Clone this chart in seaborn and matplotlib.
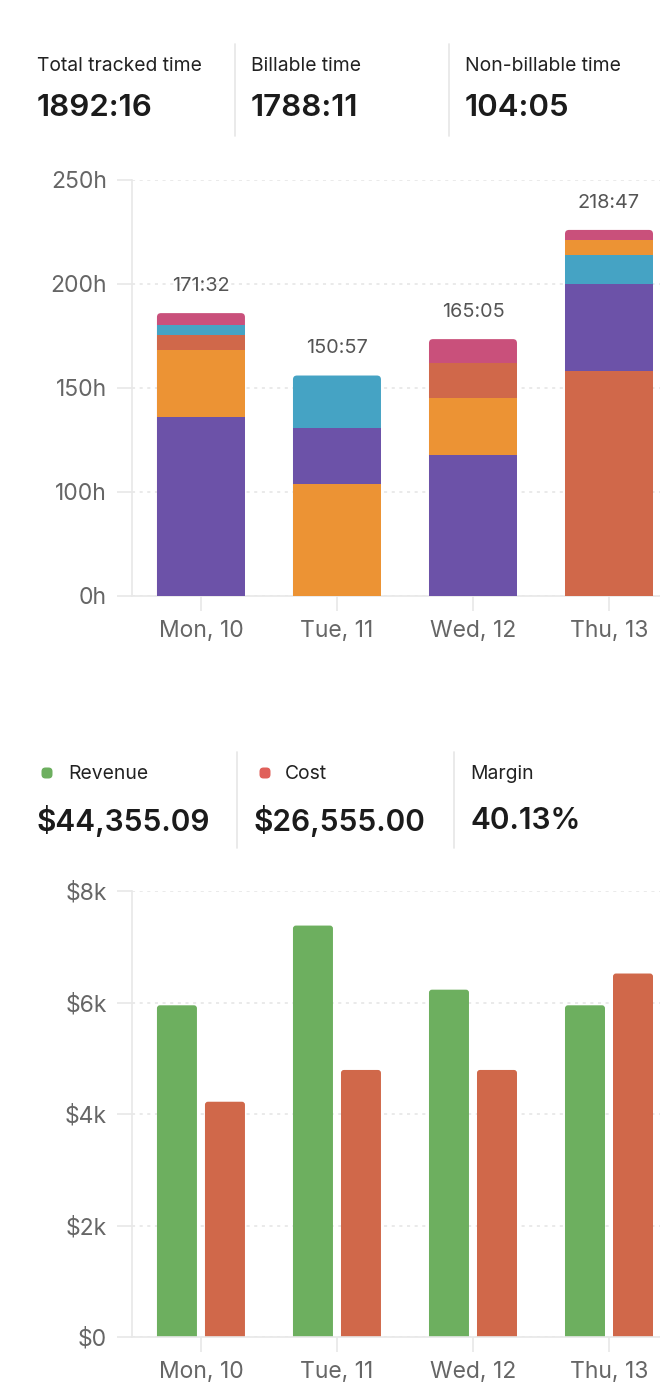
import numpy as np
import pandas as pd
import matplotlib
matplotlib.use("Agg")
import matplotlib.pyplot as plt
from matplotlib.patches import FancyBboxPatch
from matplotlib.lines import Line2D
from matplotlib.transforms import IdentityTransform
import seaborn as sns

# ---- data ----
days = ['Mon, 10', 'Tue, 11', 'Wed, 12', 'Thu, 13']
projects = ['Project A', 'Project B', 'Project C', 'Project D', 'Project E']

# stacked segments per day, bottom -> top (hours)
mon_stack = [('Project A', 136), ('Project B', 32.5), ('Project C', 7), ('Project D', 5), ('Project E', 5.5)]
tue_stack = [('Project B', 104), ('Project A', 27), ('Project D', 25)]
wed_stack = [('Project A', 118), ('Project B', 27), ('Project C', 17), ('Project E', 11.5)]
thu_stack = [('Project C', 158), ('Project A', 42), ('Project D', 14), ('Project B', 7), ('Project E', 5)]
stacks = [mon_stack, tue_stack, wed_stack, thu_stack]
total_labels = ['171:32', '150:57', '165:05', '218:47']

hour_ticks = [50, 100, 150, 200, 250]
hour_tick_labels = ['0h', '100h', '150h', '200h', '250h']

revenue = [5950, 7380, 6230, 5950]
cost = [4220, 4790, 4790, 6520]
money_ticks = [0, 2000, 4000, 6000, 8000]
money_tick_labels = ['$0', '$2k', '$4k', '$6k', '$8k']

time_stats = [('Total tracked time', '1892:16'), ('Billable time', '1788:11'), ('Non-billable time', '104:05')]
money_stats = [('Revenue', '$44,355.09'), ('Cost', '$26,555.00'), ('Margin', '40.13%')]

project_colors = {'Project A': '#6c52a8', 'Project B': '#ec9334', 'Project C': '#d0684a',
                  'Project D': '#45a3c4', 'Project E': '#c9507b'}
metric_colors = {'Revenue': '#6daf5f', 'Cost': '#d0684a'}

# ---- figure ----
sns.set_theme(style='white')
plt.rcParams['font.family'] = ['Inter', 'DejaVu Sans']
W, H = 660, 1400
fig = plt.figure(figsize=(W / 100, H / 100), dpi=100)


def fx(px):
    return px / W


def fy(py):
    return 1 - py / H


def sep(x, y0, y1):
    fig.add_artist(Line2D([fx(x), fx(x)], [fy(y0), fy(y1)], transform=fig.transFigure,
                          color='#e6e6e6', lw=1.2))


def dot(x, y, color):
    # rounded square legend marker, in pixel coordinates
    s = 11
    fig.add_artist(FancyBboxPatch((x - s / 2, H - y - s / 2), s, s,
                                  boxstyle='round,pad=0,rounding_size=4',
                                  transform=IdentityTransform(), facecolor=color,
                                  edgecolor='none'))


# stats row 1
for (lab, val), x in zip(time_stats, [37, 251, 465]):
    fig.text(fx(x), fy(66), lab, fontsize=13.9, color='#222222', va='center', ha='left')
    fig.text(fx(x), fy(108), val, fontsize=22.5, color='#1b1b1b', va='center', ha='left',
             fontweight='semibold')
sep(235, 44, 136)
sep(449, 44, 136)

# stats row 2
lab_x = [68, 285, 470]
dot_x = [47, 265, None]
for (lab, val), x, dx, vx in zip(money_stats, lab_x, dot_x, [37, 253, 470]):
    fig.text(fx(x), fy(774), lab, fontsize=13.9, color='#222222', va='center', ha='left')
    fig.text(fx(vx), fy(821), val, fontsize=21.5, color='#1b1b1b', va='center', ha='left',
             fontweight='semibold')
    if dx is not None:
        dot(dx, 773, '#6daf5f' if lab == 'Revenue' else '#e0605a')
sep(237, 752, 848)
sep(454, 752, 848)


def style_axis(ax, ticks, labels):
    ax.set_yticks(ticks)
    ax.set_yticklabels(labels)
    ax.set_xlabel('')
    ax.set_ylabel('')
    for s in ['top', 'right']:
        ax.spines[s].set_visible(False)
    ax.spines['left'].set_color('#e8e8e8')
    ax.spines['bottom'].set_color('#e8e8e8')
    ax.spines['left'].set_linewidth(1.2)
    ax.spines['bottom'].set_linewidth(1.2)
    ax.tick_params(axis='y', length=11, width=1.2, color='#e8e8e8', pad=7, labelsize=16.5,
                   labelcolor='#666666', left=True)
    ax.tick_params(axis='x', length=11, width=1.2, color='#e8e8e8', pad=6, labelsize=16.5,
                   labelcolor='#666666', bottom=True)
    ax.yaxis.grid(True, color='#e4e4e4', linestyle=(0, (2, 3)), lw=1.1)
    ax.set_axisbelow(True)


def round_tops(ax, patches, radius_px, ax_w_px, ax_h_px, extend_down=False):
    x0, x1 = ax.get_xlim()
    y0, y1 = ax.get_ylim()
    ppx = ax_w_px / (x1 - x0)
    ppy = ax_h_px / (y1 - y0)
    r = radius_px / ppx
    ry = radius_px / ppy
    for p in patches:
        bx, by = p.get_x(), p.get_y()
        bw, bh = p.get_width(), p.get_height()
        if extend_down:
            by -= ry
            bh += ry
        newp = FancyBboxPatch((bx, by), bw, bh, boxstyle=f'round,pad=0,rounding_size={r}',
                              mutation_aspect=ppx / ppy, facecolor=p.get_facecolor(),
                              edgecolor='none', zorder=p.get_zorder())
        p.remove()
        ax.add_patch(newp)


# ---- chart 1: stacked hours ----
ax1 = fig.add_axes([fx(132), fy(596), fx(528), 416 / H])
xlim = (-0.507, 3.375)
max_layers = max(len(s) for s in stacks)
for k in range(max_layers):
    rows = []
    for d, st in zip(days, stacks):
        n = len(st)
        if k < n:
            tops = np.cumsum([v for _, v in st])
            rows.append({'day': d, 'project': st[n - 1 - k][0], 'top': tops[n - 1 - k]})
    layer = pd.DataFrame(rows)
    before = len(ax1.patches)
    sns.barplot(data=layer, x='day', y='top', hue='project', order=days, hue_order=projects,
                palette=project_colors, dodge=False, width=0.647, saturation=1,
                errorbar=None, legend=False, ax=ax1, zorder=2 + k, linewidth=0)
    if k == 0:
        top_patches = list(ax1.patches[before:])

ax1.set_xlim(*xlim)
ax1.set_ylim(50, 250)
style_axis(ax1, hour_ticks, hour_tick_labels)
round_tops(ax1, top_patches, 4, 528, 416)

for i, (st, lab) in enumerate(zip(stacks, total_labels)):
    total = sum(v for _, v in st)
    ax1.annotate(lab, (i, total), xytext=(0, 19.5), textcoords='offset points',
                 ha='center', va='center', fontsize=14.3, color='#555555')

# ---- chart 2: revenue vs cost ----
ax2 = fig.add_axes([fx(132), fy(1337), fx(528), 446 / H])
money = pd.DataFrame({'day': days * 2,
                      'metric': ['Revenue'] * len(days) + ['Cost'] * len(days),
                      'value': revenue + cost})
sns.barplot(data=money, x='day', y='value', hue='metric', order=days,
            hue_order=['Revenue', 'Cost'], palette=metric_colors, width=0.706, gap=0.167,
            saturation=1, errorbar=None, legend=False, ax=ax2, zorder=2, linewidth=0)
ax2.set_xlim(*xlim)
ax2.set_ylim(0, 8000)
style_axis(ax2, money_ticks, money_tick_labels)
round_tops(ax2, list(ax2.patches), 3, 528, 446, extend_down=True)

fig.savefig('out.png', dpi=100, facecolor='white')
